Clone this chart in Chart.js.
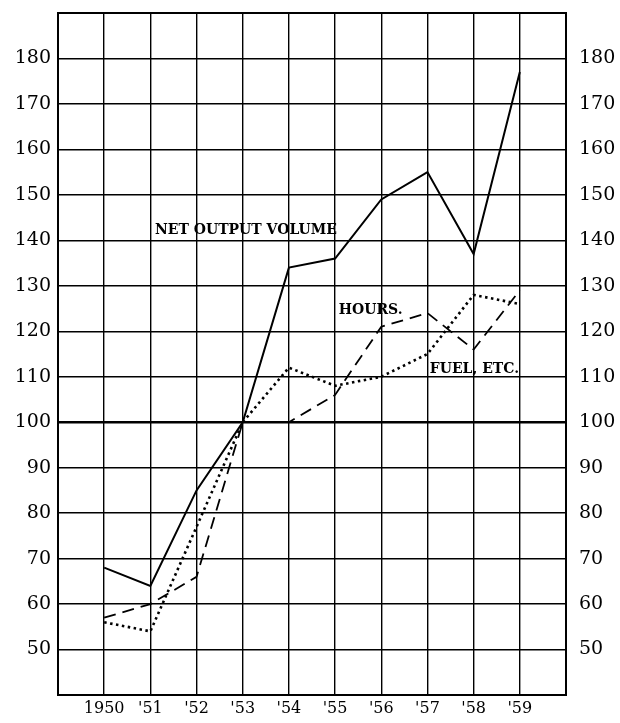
<!DOCTYPE html>
<html>
<head>
<meta charset="utf-8">
<script src="https://cdn.jsdelivr.net/npm/chart.js@4.4.1/dist/chart.umd.min.js"></script>
<style>
  html, body { margin: 0; padding: 0; background: #fff; }
  #wrap { width: 620px; height: 723px; position: relative; }
</style>
</head>
<body>
<div id="wrap"><canvas id="c" width="620" height="723"></canvas></div>
<script>
// ---- data ----
const years = [1950, 1951, 1952, 1953, 1954, 1955, 1956, 1957, 1958, 1959];
const yearLabels = ["1950", "'51", "'52", "'53", "'54", "'55", "'56", "'57", "'58", "'59"];
const netOutputVolume = [68, 64, 85, 100, 134, 136, 149, 155, 137, 177];
const hours = [57, 60, 66, 100, 100, 106, 121, 124, 116, 129];
const fuelEtc = [56, 54, 77, 100, 112, 108, 110, 115, 128, 126];
const yTicks = [50, 60, 70, 80, 90, 100, 110, 120, 130, 140, 150, 160, 170, 180];
const seriesNames = ["NET OUTPUT VOLUME", "HOURS.", "FUEL, ETC."];
// label anchors (data coordinates: left edge x, middle y)
const labelAnchors = [
  { text: seriesNames[0], x: 1951.1, y: 142.1 },
  { text: seriesNames[1], x: 1955.08, y: 124.7 },
  { text: seriesNames[2], x: 1957.05, y: 111.6 }
];

const pts = arr => years.map((yr, i) => ({ x: yr, y: arr[i] }));
const tickFont = { family: "'DejaVu Serif', serif", size: 19 };
const noPad = s => { s.paddingTop = 0; s.paddingBottom = 0; s.paddingLeft = 0; s.paddingRight = 0; };

const framePlugin = {
  id: 'frame',
  afterDatasetsDraw(chart) {
    const { ctx, chartArea: a, scales } = chart;
    ctx.save();
    ctx.strokeStyle = '#000';
    ctx.lineWidth = 2;
    ctx.strokeRect(a.left, a.top, a.right - a.left, a.bottom - a.top);
    // annotations
    ctx.fillStyle = '#000';
    ctx.font = "bold 14px 'DejaVu Serif', serif";
    ctx.textBaseline = 'middle';
    ctx.textAlign = 'left';
    labelAnchors.forEach(l => {
      ctx.fillText(l.text, scales.x.getPixelForValue(l.x), scales.y.getPixelForValue(l.y));
    });
    ctx.restore();
  }
};

new Chart(document.getElementById('c'), {
  type: 'line',
  data: {
    datasets: [
      { label: seriesNames[0], data: pts(netOutputVolume), borderColor: '#000', borderWidth: 2, pointRadius: 0, tension: 0, yAxisID: 'y' },
      { label: seriesNames[1], data: pts(hours), borderColor: '#000', borderWidth: 1.8, borderDash: [12, 7], pointRadius: 0, tension: 0, yAxisID: 'y' },
      { label: seriesNames[2], data: pts(fuelEtc), borderColor: '#000', borderWidth: 2.6, borderDash: [2.5, 3.5], pointRadius: 0, tension: 0, yAxisID: 'y' }
    ]
  },
  options: {
    responsive: false,
    animation: false,
    devicePixelRatio: 1,
    layout: { padding: { top: 13, left: 0, right: 0, bottom: 0 } },
    plugins: { legend: { display: false }, tooltip: { enabled: false } },
    scales: {
      x: {
        type: 'linear', min: 1949, max: 1960,
        afterBuildTicks: s => { s.ticks = [1949].concat(years, [1960]).map(v => ({ value: v })); },
        afterFit: s => { s.height = 28; noPad(s); },
        ticks: {
          font: { family: "'DejaVu Serif', serif", size: 16 }, color: '#000', padding: 4, maxRotation: 0, autoSkip: false,
          callback: v => { const i = years.indexOf(v); return i >= 0 ? yearLabels[i] : ''; }
        },
        grid: { color: '#000', lineWidth: 1.4, drawTicks: false },
        border: { display: false }
      },
      y: {
        type: 'linear', position: 'left', min: 40, max: 190,
        afterBuildTicks: s => { s.ticks = [40].concat(yTicks).map(v => ({ value: v })); },
        afterFit: s => { s.width = 58; noPad(s); },
        ticks: { font: tickFont, color: '#000', padding: 7, autoSkip: false,
          callback: v => (yTicks.includes(v) ? String(v) : '') },
        grid: { color: '#000', lineWidth: c => (c.tick && c.tick.value === 100 ? 2.4 : 1.4), drawTicks: false },
        border: { display: false }
      },
      y2: {
        type: 'linear', position: 'right', min: 40, max: 190,
        afterBuildTicks: s => { s.ticks = yTicks.map(v => ({ value: v })); },
        afterFit: s => { s.width = 54; noPad(s); },
        ticks: { font: tickFont, color: '#000', padding: 13, autoSkip: false, callback: v => String(v) },
        grid: { display: false, drawTicks: false },
        border: { display: false }
      }
    }
  },
  plugins: [framePlugin]
});
</script>
</body>
</html>
